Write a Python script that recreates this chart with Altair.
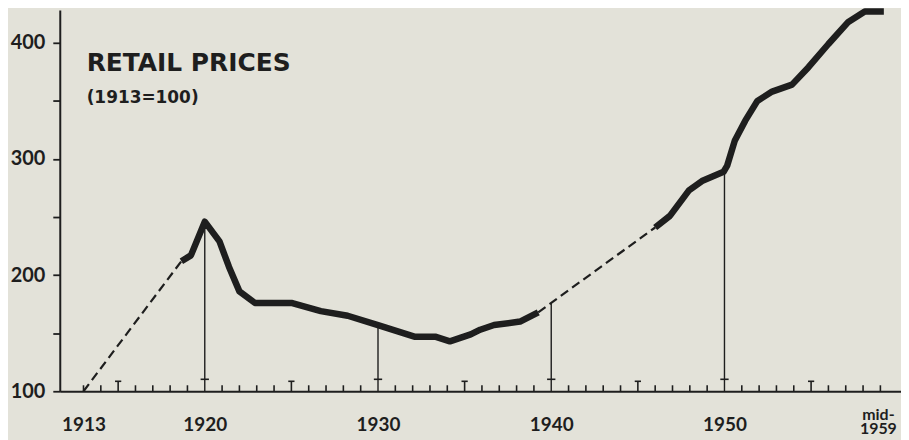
import altair as alt
import pandas as pd

# ---- data (retail prices, 1913 = 100) ----
solid1_years = [1918.65, 1919.2, 1920.0, 1920.85, 1921.4, 1922.0, 1922.9, 1925.0, 1926.7,
                1928.25, 1930.0, 1932.1, 1933.3, 1934.15, 1935.35, 1935.9, 1936.7, 1938.2, 1939.25]
solid1_values = [212, 217, 246, 229, 207, 186, 176, 176, 169,
                 165, 157, 147, 147, 143, 149, 153, 157, 160, 168]
solid2_years = [1946.0, 1946.85, 1947.95, 1948.7, 1949.95, 1950.15, 1950.6, 1951.2, 1951.9,
                1952.75, 1953.9, 1954.85, 1956.0, 1957.15, 1958.1, 1959.2]
solid2_values = [241, 251, 273, 281, 289, 294, 316, 333, 350,
                 358, 364, 379, 399, 418, 427, 427]
dashed1_years = [1913, 1918.65]
dashed1_values = [100, 212]
dashed2_years = [1939.25, 1946.0]
dashed2_values = [168, 241]

marker_years = [1920, 1930, 1940, 1950]
marker_values = [246, 157, 176, 289]
t_tick_years = [1915, 1925, 1935, 1945, 1955]
minor_tick_years = [1913, 1914, 1916, 1917, 1918, 1919, 1921, 1922, 1923, 1924, 1926, 1927,
                    1928, 1929, 1931, 1932, 1933, 1934, 1936, 1937, 1938, 1939, 1941, 1942,
                    1943, 1944, 1946, 1947, 1948, 1949, 1951, 1952, 1953, 1954, 1956, 1957,
                    1958, 1959]
x_label_years = [1913, 1920, 1930, 1940, 1950]
last_label_year = [1959]
last_label_text = ["mid-\n1959"]
y_tick_values = [100, 150, 200, 250, 300, 350, 400]
title_lines = ["RETAIL PRICES", "(1913=100)"]

# ---- tables ----
solid = pd.DataFrame({
    "year": solid1_years + solid2_years,
    "value": solid1_values + solid2_values,
    "seg": ["a"] * len(solid1_years) + ["b"] * len(solid2_years),
})
dashed = pd.DataFrame({
    "year": dashed1_years + dashed2_years,
    "value": dashed1_values + dashed2_values,
    "seg": ["a"] * len(dashed1_years) + ["b"] * len(dashed2_years),
})
markers = pd.DataFrame({"year": marker_years, "value": marker_values})
tticks = pd.DataFrame({"year": t_tick_years})
minors = pd.DataFrame({"year": minor_tick_years})
last_lab = pd.DataFrame({"year": last_label_year, "text": last_label_text})
titles = pd.DataFrame({"text": [title_lines[0]]})
subtitles = pd.DataFrame({"text": [title_lines[1]]})

ink = "#1e1e1e"
W, H = 845, 383
xs = alt.Scale(domain=[1911.63, 1960.19], nice=False, zero=False)
ys = alt.Scale(domain=[100, 428.3], nice=False, zero=False)

x_axis = alt.Axis(
    values=x_label_years, format="d",
    ticks=False, tickSize=0, grid=False, title=None,
    domainWidth=2, domainColor=ink,
    labelFont="Lato", labelFontWeight="bold", labelFontSize=19, labelColor=ink,
    labelPadding=33, labelBaseline="middle",
    labelFlush=False, labelOverlap=False,
)
y_axis = alt.Axis(
    values=y_tick_values,
    labelExpr="datum.value % 100 == 0 ? format(datum.value, 'd') : ''",
    tickSize=7, tickWidth=1.8, tickColor=ink, grid=False, title=None,
    domainWidth=2, domainColor=ink,
    labelFont="Lato", labelFontWeight="bold", labelFontSize=20, labelColor=ink,
    labelPadding=8, labelFlush=False, labelOverlap=False,
)

main = alt.Chart(solid).mark_line(
    color=ink, strokeWidth=6.5, strokeJoin="round", strokeCap="butt"
).encode(
    x=alt.X("year:Q", scale=xs, axis=x_axis),
    y=alt.Y("value:Q", scale=ys, axis=y_axis),
    detail="seg:N",
)

dash = alt.Chart(dashed).mark_line(
    color=ink, strokeWidth=2.2, strokeDash=[9, 5]
).encode(
    x=alt.X("year:Q", scale=xs, title=None),
    y=alt.Y("value:Q", scale=ys, title=None),
    detail="seg:N",
)

verticals = alt.Chart(markers).mark_rule(color=ink, strokeWidth=1.4).encode(
    x=alt.X("year:Q", scale=xs, title=None),
    y=alt.Y("value:Q", scale=ys, title=None),
    y2=alt.value(H),
)

plus_bars = alt.Chart(markers).mark_rule(color=ink, strokeWidth=1.6).transform_calculate(
    x0="datum.year - 0.24", x1="datum.year + 0.24"
).encode(
    x=alt.X("x0:Q", scale=xs, title=None),
    x2="x1:Q",
    y=alt.value(H - 12),
)

t_stems = alt.Chart(tticks).mark_rule(color=ink, strokeWidth=1.6).encode(
    x=alt.X("year:Q", scale=xs, title=None),
    y=alt.value(H - 10),
    y2=alt.value(H),
)
t_bars = alt.Chart(tticks).mark_rule(color=ink, strokeWidth=1.6).transform_calculate(
    x0="datum.year - 0.18", x1="datum.year + 0.18"
).encode(
    x=alt.X("x0:Q", scale=xs, title=None),
    x2="x1:Q",
    y=alt.value(H - 10),
)

minor = alt.Chart(minors).mark_rule(color=ink, strokeWidth=1.6).encode(
    x=alt.X("year:Q", scale=xs, title=None),
    y=alt.value(H - 6),
    y2=alt.value(H),
)

last_label = alt.Chart(last_lab).mark_text(
    align="center", baseline="alphabetic", lineBreak="\n", lineHeight=14,
    font="Lato", fontWeight="bold", fontSize=16, color=ink, dx=-2
).encode(
    x=alt.X("year:Q", scale=xs, title=None),
    y=alt.value(H + 29),
    text="text:N",
)

title_text = alt.Chart(titles).mark_text(
    align="left", baseline="alphabetic", font="DejaVu Sans", fontWeight="bold",
    fontSize=25, color=ink
).encode(text="text:N", x=alt.value(27), y=alt.value(61))

subtitle_text = alt.Chart(subtitles).mark_text(
    align="left", baseline="alphabetic", font="DejaVu Sans", fontWeight="bold",
    fontSize=17, color=ink
).encode(text="text:N", x=alt.value(27), y=alt.value(93))

chart = alt.layer(
    main, dash, verticals, plus_bars, t_stems, t_bars, minor, last_label,
    title_text, subtitle_text
).properties(
    width=W, height=H,
    padding={"left": 52, "top": 1, "right": 0, "bottom": 48},
    autosize=alt.AutoSizeParams(type="none"),
).configure(
    background="#e3e2d9",
).configure_view(stroke=None)

chart.save("out.html", embed_options={"renderer": "svg", "actions": False})
